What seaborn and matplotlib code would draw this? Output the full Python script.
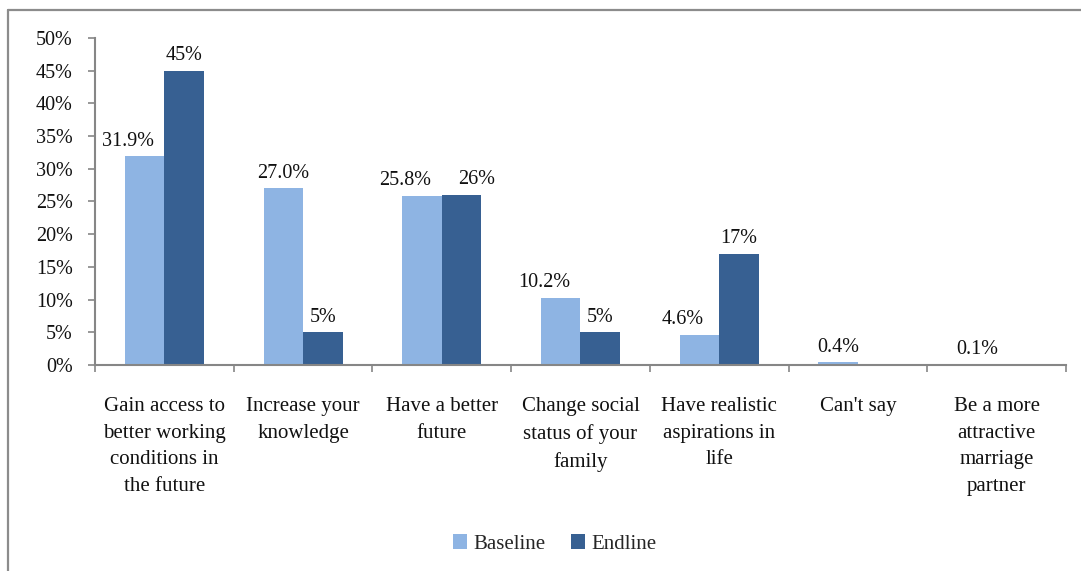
import numpy as np
import pandas as pd
import matplotlib
matplotlib.use("Agg")
import matplotlib.pyplot as plt
from matplotlib.lines import Line2D
from matplotlib.patches import Patch
import seaborn as sns

categories = [
    "Gain access to\nbetter working\nconditions in\nthe future",
    "Increase your\nknowledge",
    "Have a better\nfuture",
    "Change social\nstatus of your\nfamily",
    "Have realistic\naspirations in\nlife",
    "Can't say",
    "Be a more\nattractive\nmarriage\npartner",
]
baseline = [31.9, 27.0, 25.8, 10.2, 4.6, 0.4, 0.1]
endline = [45, 5, 26, 5, 17, np.nan, np.nan]
series_names = ["Baseline", "Endline"]
y_ticks = [0, 5, 10, 15, 20, 25, 30, 35, 40, 45, 50]

colors = {"Baseline": "#8EB4E3", "Endline": "#376092"}
axis_gray = "#868686"
text_color = "#111111"
fs = 14.5

sns.set_theme(style="white")
plt.rcParams["font.family"] = ["Liberation Serif", "DejaVu Serif"]

df = pd.DataFrame({
    "category": categories * 2,
    "series": [series_names[0]] * len(categories) + [series_names[1]] * len(categories),
    "value": baseline + endline,
})

fig = plt.figure(figsize=(10.81, 5.71), dpi=100)
ax = fig.add_axes([0.0879, 0.3608, 0.8982, 0.5727])

sns.barplot(data=df, x="category", y="value", hue="series", order=categories,
            hue_order=series_names, palette=colors, width=0.57, gap=0,
            linewidth=0, saturation=1, ax=ax, legend=False)

ax.set_xlim(-0.5, len(categories) - 0.5)
ax.set_ylim(0, 50)
ax.set_yticks(y_ticks)
ax.set_yticklabels([f"{t}%" for t in y_ticks], fontsize=fs, color=text_color)
ax.set_xlabel("")
ax.set_ylabel("")

# category labels centred under each group, tick marks at group boundaries
ax.set_xticks(range(len(categories)))
ax.set_xticklabels(categories, fontsize=15, color=text_color, linespacing=1.55,
                   va="top")
ax.set_xticks(np.arange(-0.5, len(categories), 1.0), minor=True)
ax.tick_params(axis="x", which="major", length=0, pad=23)
ax.tick_params(axis="x", which="minor", length=5, width=1.2, color=axis_gray,
               direction="out", bottom=True)
ax.tick_params(axis="y", which="major", length=5, width=1.2, color=axis_gray,
               direction="out", left=True, pad=11)

for side in ["top", "right"]:
    ax.spines[side].set_visible(False)
for side in ["left", "bottom"]:
    ax.spines[side].set_color(axis_gray)
    ax.spines[side].set_linewidth(1.5)
ax.grid(False)


def bar_centres(container):
    """Map category index -> bar centre x for the bars actually drawn."""
    out = {}
    for bar in container:
        cx = bar.get_x() + bar.get_width() / 2
        out[int(round(cx))] = cx
    return out


base_x = bar_centres(ax.containers[0])
end_x = bar_centres(ax.containers[1])

# value labels above bars; nudge sideways where neighbouring labels would collide
for i in range(len(categories)):
    b, e = baseline[i], endline[i]
    if not np.isnan(b) and i in base_x:
        dx = -12 if (not np.isnan(e) and e >= b - 6) else 0
        ax.annotate(f"{b:.1f}%", (base_x[i], b), xytext=(dx, 11),
                    textcoords="offset points", ha="center", va="center",
                    fontsize=fs, color=text_color)
    if not np.isnan(e) and i in end_x:
        dx = 11 if abs(b - e) < 2 else 0
        ax.annotate(f"{e:.0f}%", (end_x[i], e), xytext=(dx, 11),
                    textcoords="offset points", ha="center", va="center",
                    fontsize=fs, color=text_color)

handles = [Patch(facecolor=colors[s], edgecolor="none") for s in series_names]
fig.legend(handles, series_names, loc="center", bbox_to_anchor=(0.513, 0.047),
           ncol=2, frameon=False, fontsize=15, handlelength=0.7,
           handleheight=0.7, handletextpad=0.3, columnspacing=1.2)

# outer chart frame
fig.add_artist(Line2D([0.0074, 1.0], [0.9825, 0.9825], transform=fig.transFigure,
                      color="#8C8C8C", linewidth=1.6))
fig.add_artist(Line2D([0.0074, 0.0074], [0.0, 0.9825], transform=fig.transFigure,
                      color="#8C8C8C", linewidth=1.6))

fig.savefig("out.png", dpi=100, facecolor="white")
